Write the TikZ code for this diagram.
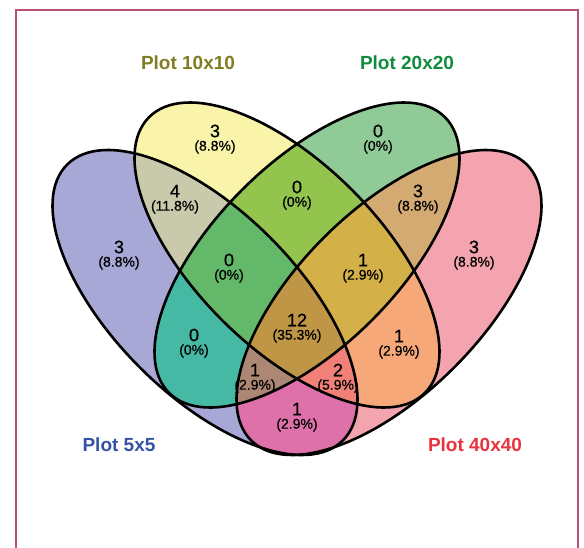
\documentclass[tikz,border=0pt]{standalone}
\usepackage{fontspec}
\setmainfont{Liberation Sans}
\newfontfamily\numfont[FakeBold=0.6]{Liberation Sans}
\usepackage{tikz}
\usetikzlibrary{positioning}

\definecolor{framecol}{RGB}{180,82,122}
\definecolor{cB}{RGB}{168,168,214}
\definecolor{cY}{RGB}{249,244,170}
\definecolor{cG}{RGB}{144,202,150}
\definecolor{cR}{RGB}{244,164,174}
\definecolor{cBY}{RGB}{201,201,172}
\definecolor{cBG}{RGB}{70,185,165}
\definecolor{cBR}{RGB}{222,112,170}
\definecolor{cYG}{RGB}{146,196,78}
\definecolor{cYR}{RGB}{246,168,120}
\definecolor{cGR}{RGB}{212,170,115}
\definecolor{cBYG}{RGB}{100,184,106}
\definecolor{cBYR}{RGB}{240,128,120}
\definecolor{cBGR}{RGB}{172,135,115}
\definecolor{cYGR}{RGB}{212,176,72}
\definecolor{cAll}{RGB}{190,150,70}
\definecolor{txtB}{RGB}{53,82,164}
\definecolor{txtY}{RGB}{128,125,35}
\definecolor{txtG}{RGB}{17,140,62}
\definecolor{txtR}{RGB}{232,52,62}

\tikzstyle{num} = [inner sep=0pt, font=\numfont\fontsize{18}{18}\selectfont]
\tikzstyle{pct} = [inner sep=0pt, font=\numfont\fontsize{14}{14}\selectfont]
\tikzstyle{setname} = [inner sep=0pt, font=\fontsize{19}{19}\selectfont\bfseries]
\tikzstyle{outline} = [line width=2.6pt]

% the four sets
\newcommand{\ellB}{[rotate around={-45:(205,302.5)}] (205,302.5) ellipse [x radius=195, y radius=92]}
\newcommand{\ellY}{[rotate around={-45:(287,255)}] (287,255) ellipse [x radius=195, y radius=92]}
\newcommand{\ellG}{[rotate around={45:(307,255)}] (307,255) ellipse [x radius=195, y radius=92]}
\newcommand{\ellR}{[rotate around={45:(389,302.5)}] (389,302.5) ellipse [x radius=195, y radius=92]}
% count and percentage of one area
\newcommand{\area}[5]{
  \node[num] (#1) at (#2,#3) {#4};
  \node[pct] (#1p) at (#2,#3+16) {(#5\%)};
}

\begin{document}
\begin{tikzpicture}[x=1pt, y=-1pt]
        \useasboundingbox (0,0) rectangle (584,547);
        \draw[framecol, line width=2.5pt] (16,10) rectangle (578,600);

        % single sets
        \fill[cB] \ellB;
        \fill[cY] \ellY;
        \fill[cG] \ellG;
        \fill[cR] \ellR;
        % pairs
        \begin{scope} \clip \ellB; \fill[cBY] \ellY; \end{scope}
        \begin{scope} \clip \ellB; \fill[cBG] \ellG; \end{scope}
        \begin{scope} \clip \ellB; \fill[cBR] \ellR; \end{scope}
        \begin{scope} \clip \ellY; \fill[cYG] \ellG; \end{scope}
        \begin{scope} \clip \ellY; \fill[cYR] \ellR; \end{scope}
        \begin{scope} \clip \ellG; \fill[cGR] \ellR; \end{scope}
        % triples
        \begin{scope} \clip \ellB; \clip \ellY; \fill[cBYG] \ellG; \end{scope}
        \begin{scope} \clip \ellB; \clip \ellY; \fill[cBYR] \ellR; \end{scope}
        \begin{scope} \clip \ellB; \clip \ellG; \fill[cBGR] \ellR; \end{scope}
        \begin{scope} \clip \ellY; \clip \ellG; \fill[cYGR] \ellR; \end{scope}
        % all four
        \begin{scope} \clip \ellB; \clip \ellY; \clip \ellG; \fill[cAll] \ellR; \end{scope}

        \draw[outline] \ellB;
        \draw[outline] \ellY;
        \draw[outline] \ellG;
        \draw[outline] \ellR;

        \area{y}{215}{131}{3}{8.8}
        \area{g}{378}{131}{0}{0}
        \area{by}{175}{191}{4}{11.8}
        \area{yg}{297}{187}{0}{0}
        \area{gr}{418}{191}{3}{8.8}
        \area{b}{119}{247}{3}{8.8}
        \area{r}{474}{247}{3}{8.8}
        \area{byg}{229}{260}{0}{0}
        \area{ygr}{363}{260}{1}{2.9}
        \area{bg}{194}{335}{0}{0}
        \area{yr}{399}{336}{1}{2.9}
        \area{all}{297}{320}{12}{35.3}
        \area{bgr}{255}{370}{1}{2.9}
        \area{byr}{338}{370}{2}{5.9}
        \area{br}{297}{409}{1}{2.9}

        \node[setname, txtY] (nameY) at (188,63) {Plot 10x10};
        \node[setname, txtG] (nameG) at (407,63) {Plot 20x20};
        \node[setname, txtB] (nameB) at (119,445) {Plot 5x5};
        \node[setname, txtR] (nameR) at (475,445) {Plot 40x40};
\end{tikzpicture}
\end{document}
